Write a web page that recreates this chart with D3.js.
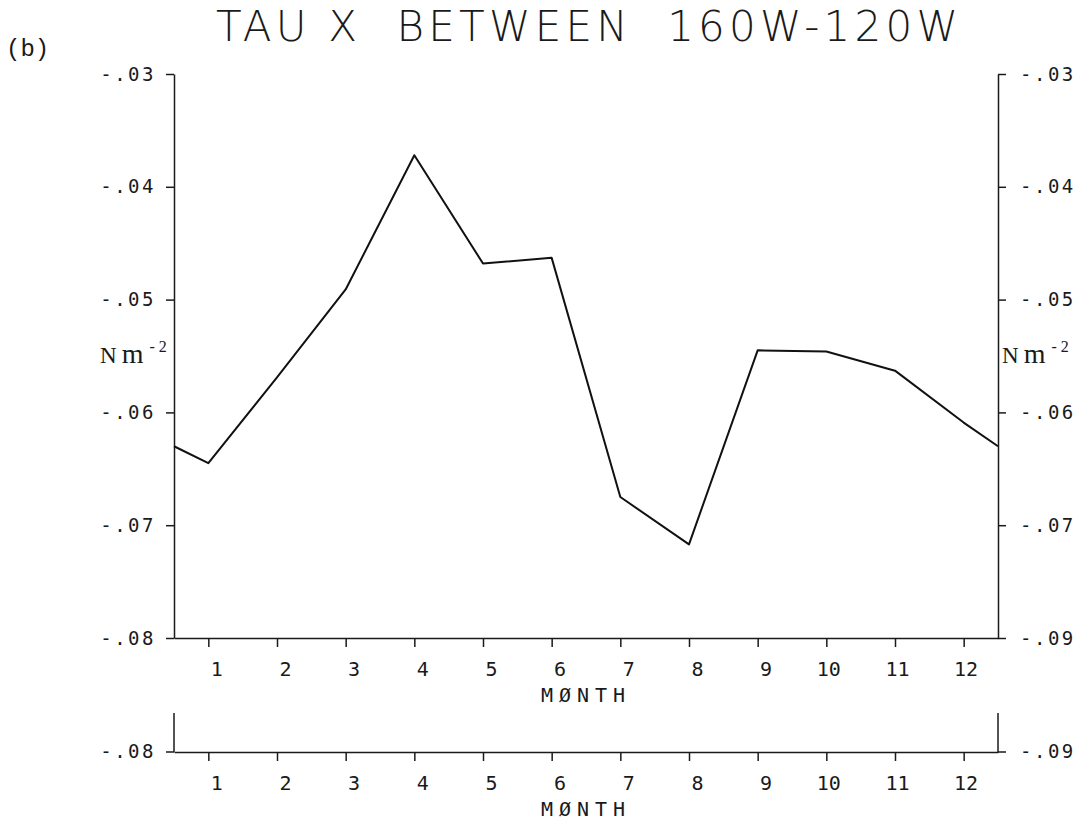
<!DOCTYPE html>
<html>
<head>
<meta charset="utf-8">
<script src="https://cdn.jsdelivr.net/npm/d3@7"></script>
<style>
  html, body { margin: 0; padding: 0; background: #fff; }
  svg { display: block; }
  text { white-space: pre; }
</style>
</head>
<body>
<script>
// ---- data ----
const months = [1, 2, 3, 4, 5, 6, 7, 8, 9, 10, 11, 12];
const monthLabels = ["1", "2", "3", "4", "5", "6", "7", "8", "9", "10", "11", "12"];
// wind stress values (N m^-2) at mid-month
const tauX = [-0.0645, -0.0569, -0.0491, -0.0372, -0.0468, -0.0463, -0.0675, -0.0717, -0.0545, -0.0546, -0.0563, -0.0609];
// cyclic end values at the left/right edge of the axis (month 0.5 and 12.5)
const edgeMonths = [0.5, 12.5];
const edgeValues = [-0.0630, -0.0630];
const yTicks = [-0.03, -0.04, -0.05, -0.06, -0.07, -0.08];
const yLabelsLeft = ["-.03", "-.04", "-.05", "-.06", "-.07", "-.08"];
const yLabelsRight = ["-.03", "-.04", "-.05", "-.06", "-.07", "-.09"];
const titleText = "TAU X  BETWEEN  160W-120W";
const panelLabel = "(b)";
const xTitle = "MØNTH";

const W = 1083, H = 825;
const svg = d3.select("body").append("svg").attr("width", W).attr("height", H);

const x = d3.scaleLinear().domain([0.5, 12.5]).range([174, 998]);
const y = d3.scaleLinear().domain([-0.08, -0.03]).range([638, 74]);

const plotFont = "'DejaVu Sans Mono', monospace";
const ink = "#1a1a1a";

// title
svg.append("text")
  .attr("x", 216).attr("y", 41)
  .attr("textLength", 742).attr("lengthAdjust", "spacing")
  .style("font-family", "'DejaVu Sans', sans-serif")
  .style("font-weight", 200)
  .style("font-size", "42px")
  .attr("fill", ink)
  .text(titleText);

svg.append("text")
  .attr("x", 6).attr("y", 56)
  .style("font-family", "'Liberation Mono', monospace")
  .style("font-size", "24px")
  .attr("fill", ink)
  .text(panelLabel);

function styleAxis(g) {
  g.selectAll("path, line").attr("stroke", ink).attr("stroke-width", 1.5);
  g.selectAll("text")
    .style("font-family", plotFont)
    .style("font-size", "19px")
    .attr("fill", ink);
}

// left axis
const gl = svg.append("g").attr("transform", `translate(${x(0.5)},0)`)
  .call(d3.axisLeft(y).tickValues(yTicks).tickSize(8).tickSizeOuter(0)
    .tickPadding(10).tickFormat((d, i) => yLabelsLeft[i]));
styleAxis(gl);
gl.selectAll("text").style("letter-spacing", "2.5px");

// right axis
const gr = svg.append("g").attr("transform", `translate(${x(12.5)},0)`)
  .call(d3.axisRight(y).tickValues(yTicks).tickSize(8).tickSizeOuter(0)
    .tickPadding(14).tickFormat((d, i) => yLabelsRight[i]));
styleAxis(gr);
gr.selectAll("text").style("letter-spacing", "2.5px");

// bottom axis
function monthAxis(yPos) {
  const g = svg.append("g").attr("transform", `translate(0,${yPos})`)
    .call(d3.axisBottom(x).tickValues(months).tickSize(9).tickSizeOuter(0)
      .tickPadding(15).tickFormat((d, i) => monthLabels[i]));
  styleAxis(g);
  g.selectAll("text").attr("text-anchor", "end").attr("x", 14).style("font-size", "20px");
  svg.append("text")
    .attr("x", (x(0.5) + x(12.5)) / 2).attr("y", yPos + 64)
    .attr("text-anchor", "middle")
    .style("font-family", plotFont).style("font-size", "20px")
    .style("letter-spacing", "6px")
    .attr("fill", ink)
    .text(xTitle);
  return g;
}
monthAxis(y(-0.08));

// second (empty) strip below
const y2 = 752;
monthAxis(y2);
svg.append("line").attr("x1", x(0.5)).attr("x2", x(0.5)).attr("y1", y2 - 39).attr("y2", y2)
  .attr("stroke", ink).attr("stroke-width", 1.5);
svg.append("line").attr("x1", x(12.5)).attr("x2", x(12.5)).attr("y1", y2 - 39).attr("y2", y2)
  .attr("stroke", ink).attr("stroke-width", 1.5);
svg.append("line").attr("x1", x(0.5) - 8).attr("x2", x(0.5)).attr("y1", y2).attr("y2", y2)
  .attr("stroke", ink).attr("stroke-width", 1.5);
svg.append("line").attr("x1", x(12.5)).attr("x2", x(12.5) + 8).attr("y1", y2).attr("y2", y2)
  .attr("stroke", ink).attr("stroke-width", 1.5);
svg.append("text").attr("x", x(0.5) - 18).attr("y", y2).attr("dy", "0.32em")
  .attr("text-anchor", "end")
  .style("font-family", plotFont).style("font-size", "19px").style("letter-spacing", "2.5px")
  .attr("fill", ink).text(yLabelsLeft[5]);
svg.append("text").attr("x", x(12.5) + 22).attr("y", y2).attr("dy", "0.32em")
  .style("font-family", plotFont).style("font-size", "19px").style("letter-spacing", "2.5px")
  .attr("fill", ink).text(yLabelsRight[5]);

// units labels
function unitLabel(xPos) {
  const t = svg.append("text").attr("x", xPos).attr("y", 363)
    .style("font-family", "'Liberation Serif', serif").attr("fill", ink);
  t.append("tspan").style("font-size", "23px").text("N");
  t.append("tspan").attr("dx", 5).style("font-size", "28px").text("m");
  t.append("tspan").attr("dx", 6).attr("dy", -11).style("font-size", "16px").text("- 2");
}
unitLabel(100);
unitLabel(1002);

// data line
const pts = [[edgeMonths[0], edgeValues[0]]]
  .concat(months.map((m, i) => [m, tauX[i]]))
  .concat([[edgeMonths[1], edgeValues[1]]]);
svg.append("path")
  .datum(pts)
  .attr("fill", "none")
  .attr("stroke", "#111")
  .attr("stroke-width", 2)
  .attr("stroke-linejoin", "round")
  .attr("d", d3.line().x(d => x(d[0])).y(d => y(d[1])));
</script>
</body>
</html>
